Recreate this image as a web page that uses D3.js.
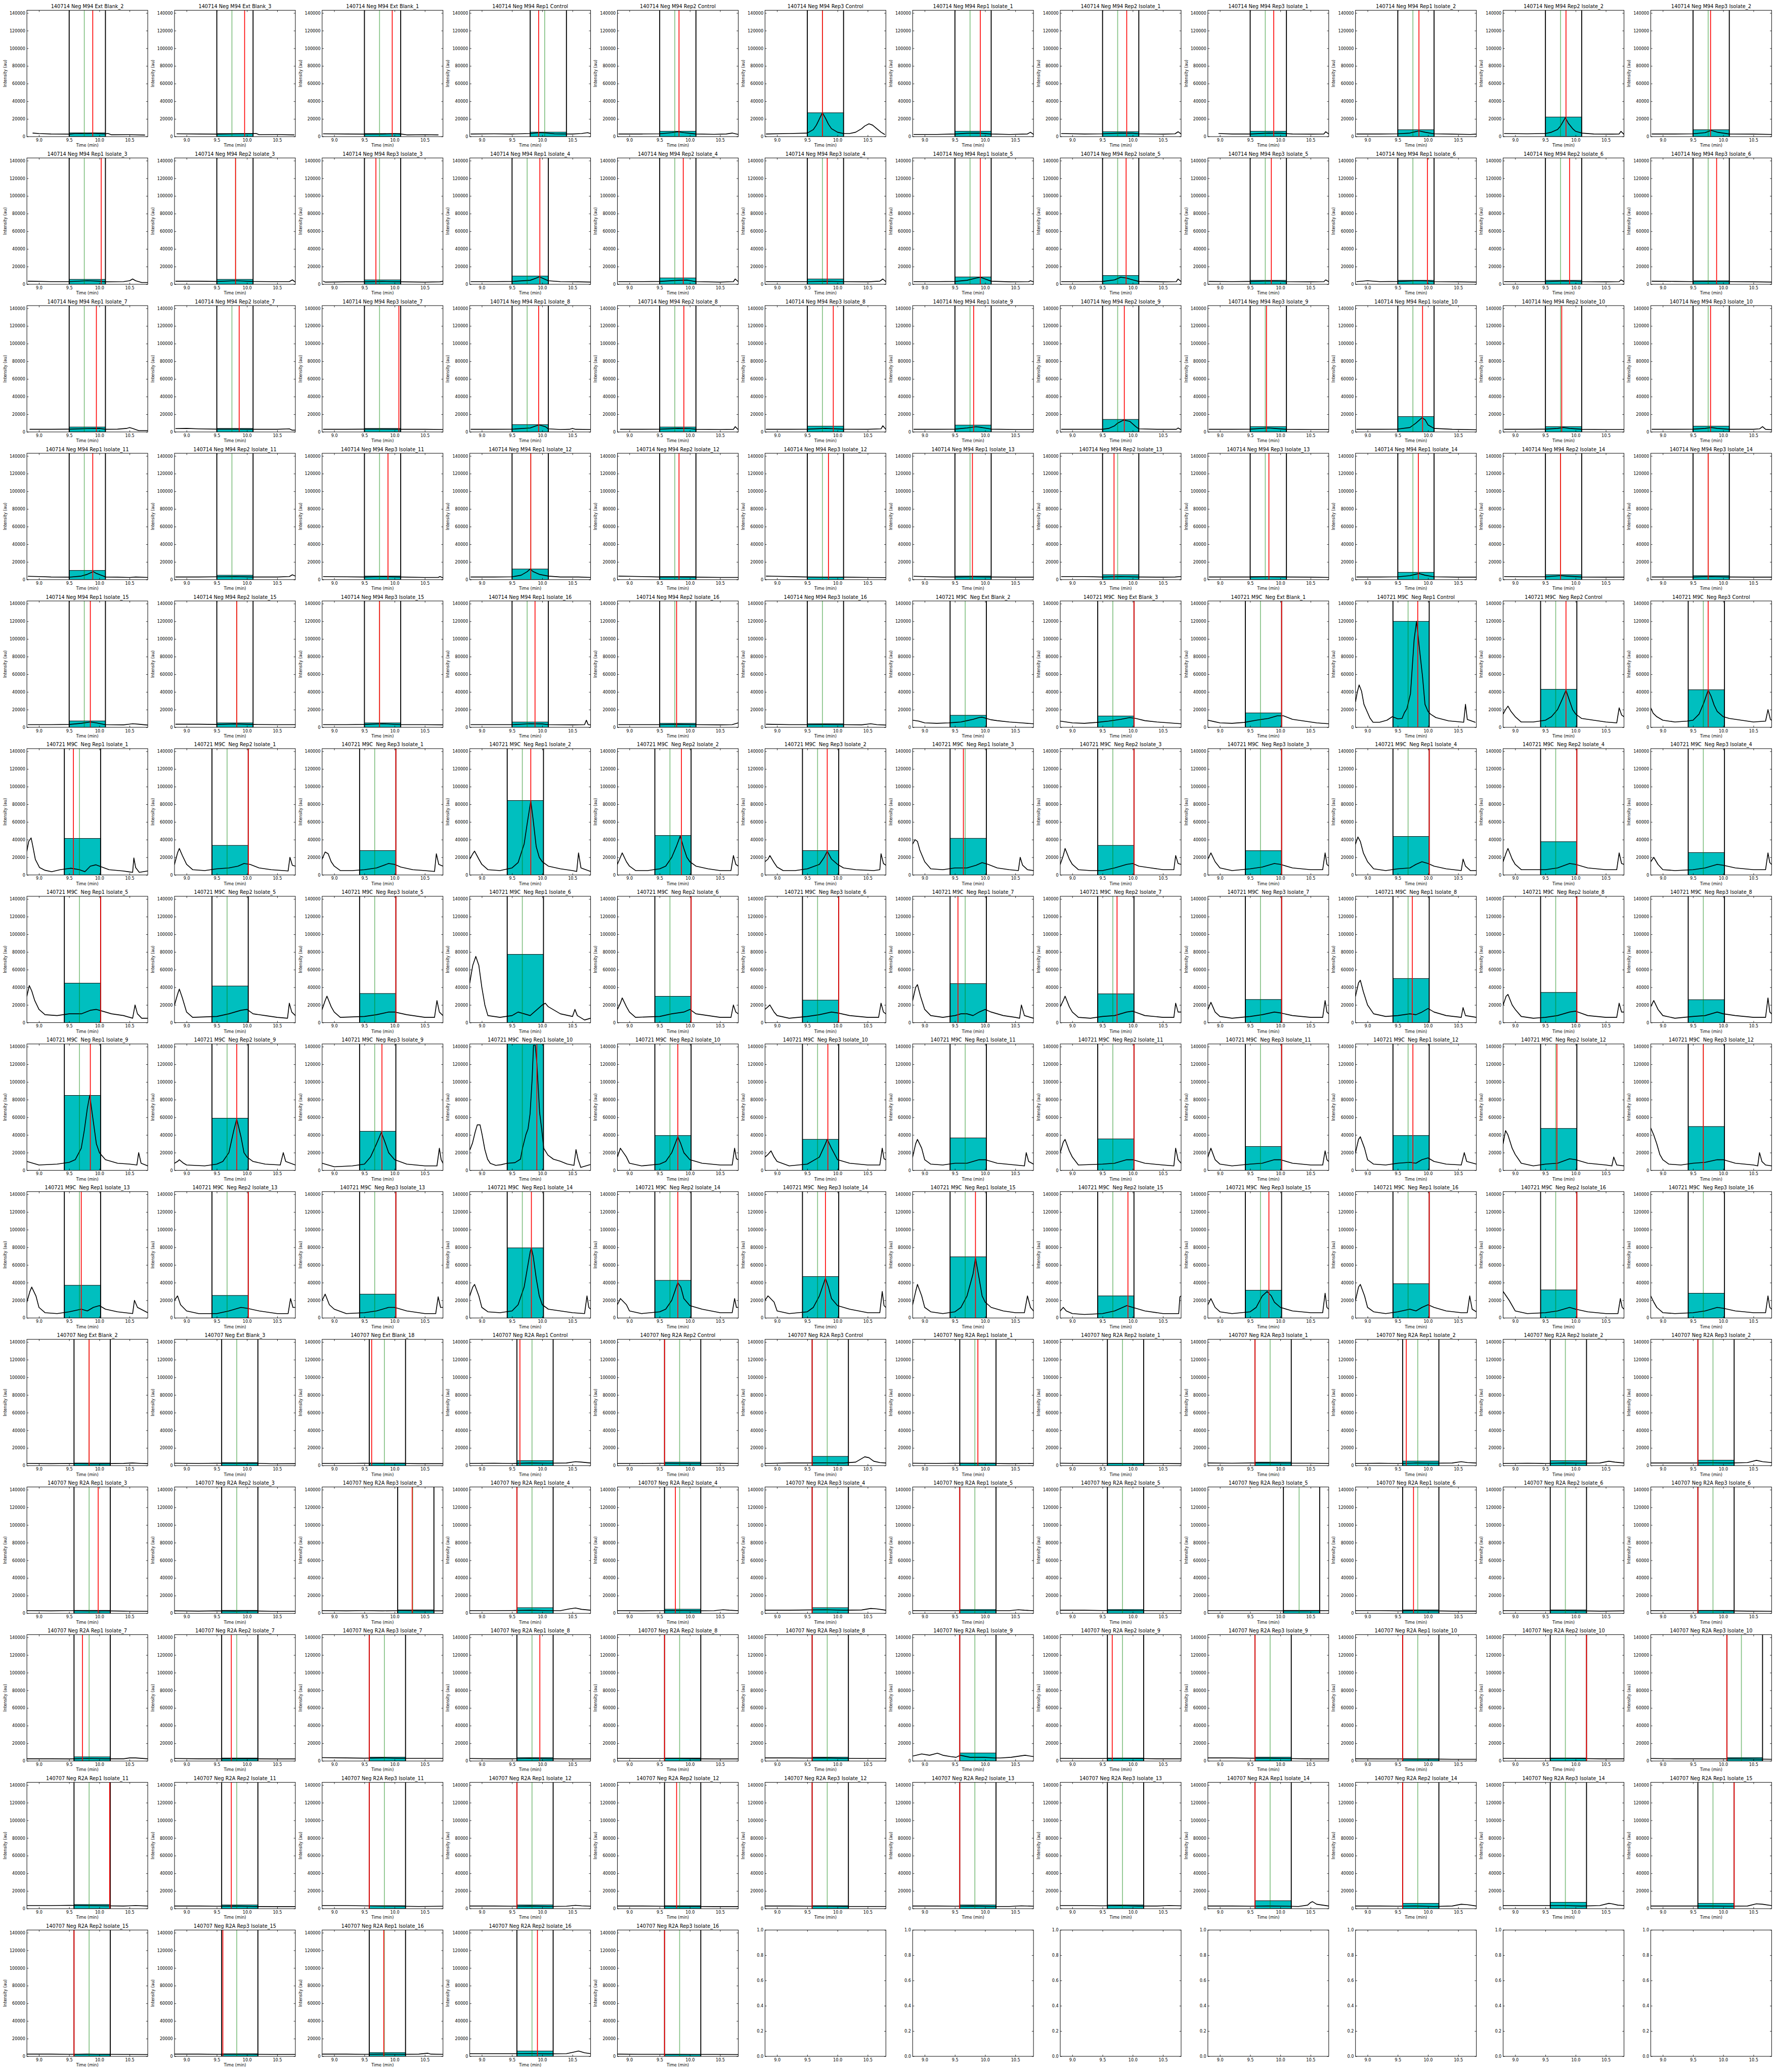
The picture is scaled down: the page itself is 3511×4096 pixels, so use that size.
<!DOCTYPE html>
<html><head><meta charset="utf-8">
<script src="https://cdn.jsdelivr.net/npm/d3@7"></script>
<style>html,body{margin:0;padding:0;background:#fff;}svg text{white-space:pre;}</style>
</head><body>
<script>
// ---------------- DATA ----------------
const titles = [
"140714 Neg M94 Ext Blank_2","140714 Neg M94 Ext Blank_3","140714 Neg M94 Ext Blank_1","140714 Neg M94 Rep1 Control","140714 Neg M94 Rep2 Control","140714 Neg M94 Rep3 Control","140714 Neg M94 Rep1 Isolate_1","140714 Neg M94 Rep2 Isolate_1","140714 Neg M94 Rep3 Isolate_1","140714 Neg M94 Rep1 Isolate_2","140714 Neg M94 Rep2 Isolate_2","140714 Neg M94 Rep3 Isolate_2",
"140714 Neg M94 Rep1 Isolate_3","140714 Neg M94 Rep2 Isolate_3","140714 Neg M94 Rep3 Isolate_3","140714 Neg M94 Rep1 Isolate_4","140714 Neg M94 Rep2 Isolate_4","140714 Neg M94 Rep3 Isolate_4","140714 Neg M94 Rep1 Isolate_5","140714 Neg M94 Rep2 Isolate_5","140714 Neg M94 Rep3 Isolate_5","140714 Neg M94 Rep1 Isolate_6","140714 Neg M94 Rep2 Isolate_6","140714 Neg M94 Rep3 Isolate_6",
"140714 Neg M94 Rep1 Isolate_7","140714 Neg M94 Rep2 Isolate_7","140714 Neg M94 Rep3 Isolate_7","140714 Neg M94 Rep1 Isolate_8","140714 Neg M94 Rep2 Isolate_8","140714 Neg M94 Rep3 Isolate_8","140714 Neg M94 Rep1 Isolate_9","140714 Neg M94 Rep2 Isolate_9","140714 Neg M94 Rep3 Isolate_9","140714 Neg M94 Rep1 Isolate_10","140714 Neg M94 Rep2 Isolate_10","140714 Neg M94 Rep3 Isolate_10",
"140714 Neg M94 Rep1 Isolate_11","140714 Neg M94 Rep2 Isolate_11","140714 Neg M94 Rep3 Isolate_11","140714 Neg M94 Rep1 Isolate_12","140714 Neg M94 Rep2 Isolate_12","140714 Neg M94 Rep3 Isolate_12","140714 Neg M94 Rep1 Isolate_13","140714 Neg M94 Rep2 Isolate_13","140714 Neg M94 Rep3 Isolate_13","140714 Neg M94 Rep1 Isolate_14","140714 Neg M94 Rep2 Isolate_14","140714 Neg M94 Rep3 Isolate_14",
"140714 Neg M94 Rep1 Isolate_15","140714 Neg M94 Rep2 Isolate_15","140714 Neg M94 Rep3 Isolate_15","140714 Neg M94 Rep1 Isolate_16","140714 Neg M94 Rep2 Isolate_16","140714 Neg M94 Rep3 Isolate_16","140721 M9C  Neg Ext Blank_2","140721 M9C  Neg Ext Blank_3","140721 M9C  Neg Ext Blank_1","140721 M9C  Neg Rep1 Control","140721 M9C  Neg Rep2 Control","140721 M9C  Neg Rep3 Control",
"140721 M9C  Neg Rep1 Isolate_1","140721 M9C  Neg Rep2 Isolate_1","140721 M9C  Neg Rep3 Isolate_1","140721 M9C  Neg Rep1 Isolate_2","140721 M9C  Neg Rep2 Isolate_2","140721 M9C  Neg Rep3 Isolate_2","140721 M9C  Neg Rep1 Isolate_3","140721 M9C  Neg Rep2 Isolate_3","140721 M9C  Neg Rep3 Isolate_3","140721 M9C  Neg Rep1 Isolate_4","140721 M9C  Neg Rep2 Isolate_4","140721 M9C  Neg Rep3 Isolate_4",
"140721 M9C  Neg Rep1 Isolate_5","140721 M9C  Neg Rep2 Isolate_5","140721 M9C  Neg Rep3 Isolate_5","140721 M9C  Neg Rep1 Isolate_6","140721 M9C  Neg Rep2 Isolate_6","140721 M9C  Neg Rep3 Isolate_6","140721 M9C  Neg Rep1 Isolate_7","140721 M9C  Neg Rep2 Isolate_7","140721 M9C  Neg Rep3 Isolate_7","140721 M9C  Neg Rep1 Isolate_8","140721 M9C  Neg Rep2 Isolate_8","140721 M9C  Neg Rep3 Isolate_8",
"140721 M9C  Neg Rep1 Isolate_9","140721 M9C  Neg Rep2 Isolate_9","140721 M9C  Neg Rep3 Isolate_9","140721 M9C  Neg Rep1 Isolate_10","140721 M9C  Neg Rep2 Isolate_10","140721 M9C  Neg Rep3 Isolate_10","140721 M9C  Neg Rep1 Isolate_11","140721 M9C  Neg Rep2 Isolate_11","140721 M9C  Neg Rep3 Isolate_11","140721 M9C  Neg Rep1 Isolate_12","140721 M9C  Neg Rep2 Isolate_12","140721 M9C  Neg Rep3 Isolate_12",
"140721 M9C  Neg Rep1 Isolate_13","140721 M9C  Neg Rep2 Isolate_13","140721 M9C  Neg Rep3 Isolate_13","140721 M9C  Neg Rep1 Isolate_14","140721 M9C  Neg Rep2 Isolate_14","140721 M9C  Neg Rep3 Isolate_14","140721 M9C  Neg Rep1 Isolate_15","140721 M9C  Neg Rep2 Isolate_15","140721 M9C  Neg Rep3 Isolate_15","140721 M9C  Neg Rep1 Isolate_16","140721 M9C  Neg Rep2 Isolate_16","140721 M9C  Neg Rep3 Isolate_16",
"140707 Neg Ext Blank_2","140707 Neg Ext Blank_3","140707 Neg Ext Blank_18","140707 Neg R2A Rep1 Control","140707 Neg R2A Rep2 Control","140707 Neg R2A Rep3 Control","140707 Neg R2A Rep1 Isolate_1","140707 Neg R2A Rep2 Isolate_1","140707 Neg R2A Rep3 Isolate_1","140707 Neg R2A Rep1 Isolate_2","140707 Neg R2A Rep2 Isolate_2","140707 Neg R2A Rep3 Isolate_2",
"140707 Neg R2A Rep1 Isolate_3","140707 Neg R2A Rep2 Isolate_3","140707 Neg R2A Rep3 Isolate_3","140707 Neg R2A Rep1 Isolate_4","140707 Neg R2A Rep2 Isolate_4","140707 Neg R2A Rep3 Isolate_4","140707 Neg R2A Rep1 Isolate_5","140707 Neg R2A Rep2 Isolate_5","140707 Neg R2A Rep3 Isolate_5","140707 Neg R2A Rep1 Isolate_6","140707 Neg R2A Rep2 Isolate_6","140707 Neg R2A Rep3 Isolate_6",
"140707 Neg R2A Rep1 Isolate_7","140707 Neg R2A Rep2 Isolate_7","140707 Neg R2A Rep3 Isolate_7","140707 Neg R2A Rep1 Isolate_8","140707 Neg R2A Rep2 Isolate_8","140707 Neg R2A Rep3 Isolate_8","140707 Neg R2A Rep1 Isolate_9","140707 Neg R2A Rep2 Isolate_9","140707 Neg R2A Rep3 Isolate_9","140707 Neg R2A Rep1 Isolate_10","140707 Neg R2A Rep2 Isolate_10","140707 Neg R2A Rep3 Isolate_10",
"140707 Neg R2A Rep1 Isolate_11","140707 Neg R2A Rep2 Isolate_11","140707 Neg R2A Rep3 Isolate_11","140707 Neg R2A Rep1 Isolate_12","140707 Neg R2A Rep2 Isolate_12","140707 Neg R2A Rep3 Isolate_12","140707 Neg R2A Rep2 Isolate_13","140707 Neg R2A Rep3 Isolate_13","140707 Neg R2A Rep1 Isolate_14","140707 Neg R2A Rep2 Isolate_14","140707 Neg R2A Rep3 Isolate_14","140707 Neg R2A Rep1 Isolate_15",
"140707 Neg R2A Rep2 Isolate_15","140707 Neg R2A Rep3 Isolate_15","140707 Neg R2A Rep1 Isolate_16","140707 Neg R2A Rep2 Isolate_16","140707 Neg R2A Rep3 Isolate_16"
];

// integration window start (min)
const boundLeft = [
9.5,9.5,9.5,9.8,9.5,9.5,9.5,9.5,9.5,9.5,9.5,9.5,
9.5,9.5,9.5,9.5,9.5,9.5,9.5,9.5,9.5,9.5,9.5,9.5,
9.5,9.5,9.5,9.5,9.5,9.5,9.5,9.5,9.5,9.5,9.5,9.5,
9.5,9.5,9.5,9.5,9.5,9.5,9.5,9.5,9.5,9.5,9.5,9.5,
9.5,9.5,9.5,9.5,9.5,9.5,9.42,9.42,9.42,9.42,9.42,9.42,
9.42,9.42,9.42,9.42,9.42,9.42,9.42,9.42,9.42,9.42,9.42,9.42,
9.42,9.42,9.42,9.42,9.42,9.42,9.42,9.42,9.42,9.42,9.42,9.42,
9.42,9.42,9.42,9.42,9.42,9.42,9.42,9.42,9.42,9.42,9.42,9.42,
9.42,9.42,9.42,9.42,9.42,9.42,9.42,9.42,9.42,9.42,9.42,9.42,
9.58,9.58,9.58,9.58,9.58,9.58,9.58,9.58,9.58,9.58,9.58,9.58,
9.58,9.58,10.05,9.58,9.58,9.58,9.58,9.58,10.05,9.58,9.58,9.58,
9.58,9.58,9.58,9.58,9.58,9.58,9.58,9.58,9.58,9.58,9.58,10.06,
9.58,9.58,9.58,9.58,9.58,9.58,9.58,9.58,9.58,9.58,9.58,9.58,
9.58,9.58,9.58,9.58,9.58
];
// integration window end (min)
const boundRight = [
10.1,10.1,10.1,10.4,10.1,10.1,10.1,10.1,10.1,10.1,10.1,10.1,
10.1,10.1,10.1,10.1,10.1,10.1,10.1,10.1,10.1,10.1,10.1,10.1,
10.1,10.1,10.1,10.1,10.1,10.1,10.1,10.1,10.1,10.1,10.1,10.1,
10.1,10.1,10.1,10.1,10.1,10.1,10.1,10.1,10.1,10.1,10.1,10.1,
10.1,10.1,10.1,10.1,10.1,10.1,10.02,10.02,10.02,10.02,10.02,10.02,
10.02,10.02,10.02,10.02,10.02,10.02,10.02,10.02,10.02,10.02,10.02,10.02,
10.02,10.02,10.02,10.02,10.02,10.02,10.02,10.02,10.02,10.02,10.02,10.02,
10.02,10.02,10.02,10.02,10.02,10.02,10.02,10.02,10.02,10.02,10.02,10.02,
10.02,10.02,10.02,10.02,10.02,10.02,10.02,10.02,10.02,10.02,10.02,10.02,
10.18,10.18,10.18,10.18,10.18,10.18,10.18,10.18,10.18,10.18,10.18,10.18,
10.18,10.18,10.65,10.18,10.18,10.18,10.18,10.18,10.65,10.18,10.18,10.18,
10.18,10.18,10.18,10.18,10.18,10.18,10.18,10.18,10.18,10.18,10.18,10.65,
10.18,10.18,10.18,10.18,10.18,10.18,10.18,10.18,10.18,10.18,10.18,10.18,
10.18,10.18,10.18,10.18,10.18
];
// green marker (min)
const greenRT = [
9.75,9.75,9.75,10.04,9.75,9.75,9.75,9.75,9.75,9.75,9.75,9.75,
9.75,9.81,9.75,9.75,9.75,9.75,9.75,9.75,9.75,9.75,9.75,9.75,
9.75,9.75,9.75,9.75,9.75,9.75,9.75,9.75,9.75,9.75,9.75,9.75,
9.75,9.75,9.75,9.81,9.75,9.75,9.75,9.75,9.75,9.75,9.75,9.75,
9.75,9.83,9.75,9.75,9.75,9.75,9.67,9.67,9.67,9.67,9.67,9.67,
9.67,9.67,9.67,9.67,9.67,9.67,9.67,9.67,9.67,9.67,9.67,9.67,
9.67,9.67,9.67,9.67,9.67,9.67,9.67,9.67,9.67,9.67,9.67,9.67,
9.67,9.67,9.67,9.67,9.67,9.67,9.67,9.67,9.67,9.67,9.67,9.67,
9.67,9.67,9.67,9.67,9.67,9.67,9.67,9.67,9.67,9.67,9.67,9.67,
9.83,9.83,9.83,9.83,9.83,9.83,9.83,9.83,9.83,9.83,9.83,9.83,
9.83,9.83,10.3,9.83,9.83,9.83,9.83,9.83,10.31,9.83,9.83,9.83,
9.83,9.83,9.83,9.83,9.83,9.83,9.83,9.83,9.83,9.83,9.83,10.3,
9.83,9.83,9.83,9.83,9.83,9.83,9.83,9.83,9.83,9.83,9.83,9.83,
9.83,9.83,9.83,9.83,9.83
];
// red marker (min); null = outside the plotted range
const redRT = [
9.89,9.96,9.96,9.94,9.82,9.75,9.92,9.9,9.89,9.85,9.84,9.79,
10.03,9.81,9.69,9.96,9.89,9.83,9.92,9.89,9.85,9.99,9.9,9.89,
9.95,9.87,10.07,9.94,9.9,9.93,9.81,9.86,9.77,9.91,9.77,9.79,
9.89,null,9.89,9.81,9.82,9.85,9.79,9.69,9.81,9.84,9.75,9.75,
9.85,9.83,9.75,9.88,9.78,null,null,10.02,10.02,9.83,9.84,9.75,
9.57,10.02,10.02,9.81,9.86,9.83,9.64,10.02,10.02,10.02,10.02,null,
10.02,null,10.02,null,10.02,10.02,9.55,9.74,10.02,9.74,10.02,null,
9.85,9.83,9.79,9.91,9.8,9.84,null,10.02,10.02,9.75,9.69,9.67,
9.7,10.02,10.02,9.82,9.8,9.8,9.84,9.92,9.81,10.02,10.02,null,
9.83,null,9.62,9.63,9.58,9.58,9.88,null,9.58,9.64,null,9.58,
9.98,null,10.29,9.58,9.76,9.58,9.58,null,null,9.76,null,9.58,
9.72,9.74,9.58,9.96,9.58,9.58,9.58,9.66,9.58,9.58,10.18,10.06,
10.17,9.74,9.58,9.58,9.78,9.58,9.58,null,9.58,9.58,null,10.18,
9.58,9.6,9.82,9.92,9.58
];
// filled window height (thousand au)
const boxTopK = [
4.2,3.5,3.5,5.1,6.1,27,6.1,5.6,6.1,7.8,22.2,7.8,
5.6,5.6,5,9.3,7.2,6,8.3,9.9,4.5,4.5,4.5,4,
5.6,4,4,8.3,5.6,6.6,7.8,14.2,6.1,17.4,6.1,6.6,
10.4,5,4,12,3.5,3,4,5.6,3.5,8.3,5.6,4.5,
7.2,5,5,6,4.5,4,13.6,12.8,16.3,120,43,42.5,
41.4,33.5,27.6,84.3,44.7,27.6,41.5,33.5,27.5,43.6,37.7,25.4,
44.7,41.5,33,77.3,29.8,25.5,44.2,32.6,26.2,50,34.2,26,
84.8,59,44.2,150,39.4,35.1,36.7,35.6,27,39.4,47.4,49.6,
37,25.5,27,79.4,42.6,46.9,69.3,25,31.4,38.8,31.8,28,
3,3.5,3,5.7,4,10.5,3,2.5,4,5.2,5.7,6.2,
3.4,3.4,3.9,6.4,4.7,6.4,4.3,4.3,3.4,3.9,3.9,3.4,
4.7,3.4,4.3,3.8,3.4,4.3,9.1,3.4,4.3,2.5,3.4,3.8,
4.7,4.2,3.4,4.2,3.4,3.4,4.2,4.2,9,6,7.2,6,
2.5,2.9,4.2,6,2.1
];
// chromatogram traces: [time (min), intensity (thousand au)]
const tracesK = [
// row 0
[[8.9,4],[9.0,3.5],[9.2,3],[9.5,2.8],[9.6,3.5],[9.7,3.6],[9.8,3.3],[9.9,3.8],[10.0,3.4],[10.1,3.1],[10.14,3.6],[10.2,2.1],[10.5,2.2],[10.75,1.8]],
[[8.84,3.2],[9.2,3],[9.5,2.8],[9.8,3.2],[10.1,3.4],[10.15,3.6],[10.2,2.2],[10.5,2.3],[10.78,2]],
[[8.82,3.2],[9.2,3],[9.5,2.8],[9.8,3],[10.0,3.3],[10.1,3],[10.2,2],[10.5,2.2],[10.72,2]],
[[8.82,3],[9.2,3.2],[9.5,3],[9.8,3.5],[9.95,4.5],[10.05,4.2],[10.2,3.2],[10.5,3],[10.65,3.5],[10.75,4.5],[10.8,3.5]],
[[8.82,3],[9.2,3],[9.5,3.2],[9.7,4.5],[9.8,5.5],[9.9,4.5],[10.1,3],[10.4,2.6],[10.6,3],[10.7,4],[10.8,2.5]],
[[8.82,3],[9.2,3.5],[9.5,4],[9.6,8],[9.65,13],[9.7,20],[9.75,27],[9.8,21],[9.85,14],[9.9,9],[10.0,5],[10.1,3.5],[10.2,3.5],[10.3,5],[10.4,9],[10.45,12],[10.52,14.5],[10.58,13],[10.65,9],[10.72,5],[10.78,2.5]],
[[8.82,2.5],[9.2,2.5],[9.5,3],[9.7,3.8],[9.9,4],[10.1,3],[10.4,2.5],[10.7,3],[10.75,5],[10.8,2.5]],
[[8.82,3.5],[9.2,3],[9.5,3.2],[9.8,4],[10.0,3.8],[10.1,3.2],[10.5,2.8],[10.7,3.2],[10.75,5.5],[10.8,3]],
[[8.98,3.5],[9.2,3],[9.5,3],[9.8,4],[10.0,3.8],[10.2,3],[10.5,2.8],[10.72,3],[10.75,5.5],[10.8,3]],
[[8.82,3],[9.2,3],[9.5,3.2],[9.7,4],[9.85,6.5],[9.95,5],[10.1,3.2],[10.4,2.8],[10.7,2.5],[10.8,2.8]],
[[8.82,3.5],[9.2,3.2],[9.5,3.5],[9.6,5],[9.7,8],[9.75,12],[9.8,18],[9.83,21.5],[9.88,15],[9.95,9],[10.0,6],[10.1,4],[10.3,3],[10.6,2.8],[10.72,3],[10.75,6],[10.8,2.5]],
[[8.82,3],[9.2,3],[9.5,3.2],[9.7,4.5],[9.8,7],[9.9,5],[10.1,3],[10.5,2.8],[10.8,2.5]],
// row 1
[[8.82,3.5],[9.2,3],[9.5,3],[9.8,4],[10.0,3.5],[10.1,2.8],[10.4,3],[10.5,4],[10.55,6],[10.6,4],[10.7,2],[10.8,2]],
[[8.82,3.5],[9.2,3.5],[9.5,3.2],[9.8,4],[10.1,3.2],[10.4,3],[10.7,3],[10.75,5],[10.8,2.5]],
[[8.82,3.5],[8.85,2.5],[9.2,2.8],[9.5,2.8],[9.8,3.2],[10.1,2.8],[10.5,2.5],[10.75,2.8],[10.8,3.5]],
[[8.82,3],[9.2,3],[9.5,3.2],[9.8,4.5],[9.9,7],[9.95,8.5],[10.0,7],[10.1,4],[10.3,3],[10.6,2.8],[10.8,2.5]],
[[8.82,3],[9.2,3],[9.5,3.2],[9.8,4.5],[9.95,4.8],[10.1,3],[10.5,2.5],[10.72,3],[10.75,6],[10.8,3]],
[[8.82,3],[9.2,3],[9.5,3],[9.8,3.5],[10.1,3],[10.5,2.8],[10.7,3.5],[10.75,6],[10.8,3]],
[[8.82,3],[9.2,3],[9.5,3.2],[9.7,4.5],[9.85,7],[9.92,8],[10.0,6],[10.1,3.5],[10.4,2.8],[10.72,3],[10.75,4],[10.8,2.8]],
[[8.82,3],[9.2,3],[9.5,3.2],[9.7,5],[9.8,8],[9.9,7],[10.0,5],[10.1,3.2],[10.5,2.8],[10.72,3],[10.75,6],[10.8,3]],
[[8.82,3.2],[9.2,3],[9.5,3.2],[9.8,3.8],[10.0,3.6],[10.1,3],[10.5,2.8],[10.72,3],[10.75,5],[10.8,3]],
[[8.82,3],[9.0,4],[9.2,3],[9.5,3.2],[9.8,4],[10.0,3.8],[10.1,3],[10.5,2.8],[10.8,2.5]],
[[8.82,3],[9.2,3],[9.5,3],[9.8,3.8],[10.0,3.6],[10.1,3],[10.5,2.8],[10.72,3],[10.75,5],[10.8,3]],
[[8.82,3.5],[9.2,3.2],[9.5,3],[9.8,3.3],[10.1,3],[10.5,2.8],[10.8,2.5]],
// row 2
[[8.85,3],[9.2,3],[9.5,3.2],[9.8,3.8],[10.0,4],[10.1,3],[10.3,3.2],[10.45,4],[10.5,5],[10.55,4],[10.65,1.5],[10.8,1.5]],
[[8.82,3.8],[9.0,4],[9.2,3.5],[9.5,3.2],[9.8,3.2],[10.1,3],[10.5,3],[10.7,3.5],[10.75,2],[10.8,2]],
[[8.82,3],[9.2,3],[9.5,3.2],[9.8,3.2],[10.1,3],[10.5,3],[10.8,2.8]],
[[8.82,3],[9.2,3],[9.5,3.2],[9.8,4.5],[9.9,7],[9.95,8],[10.05,6],[10.1,3.5],[10.3,2.8],[10.45,3],[10.5,4],[10.55,3],[10.8,2.8]],
[[8.85,3],[9.2,3],[9.5,3.2],[9.8,4],[10.0,3.8],[10.1,3],[10.5,2.8],[10.72,3],[10.75,6],[10.8,2.5]],
[[8.82,3],[9.2,3],[9.5,3.2],[9.8,4],[10.1,3.2],[10.5,3],[10.72,3.5],[10.75,7],[10.8,3]],
[[8.82,3],[9.2,3],[9.5,3.2],[9.7,4.5],[9.85,6],[9.95,5],[10.1,3.2],[10.5,2.8],[10.8,2.8]],
[[8.82,3],[9.2,3],[9.5,3],[9.6,4],[9.7,7],[9.75,10],[9.85,13.5],[9.95,12],[10.05,6],[10.1,3.5],[10.4,3],[10.72,3],[10.75,4.5],[10.8,2.5]],
[[8.82,3],[9.2,3],[9.5,3.2],[9.8,4.5],[9.9,4],[10.1,3],[10.5,2.8],[10.8,2.8]],
[[8.82,3],[9.2,3],[9.5,3.2],[9.7,5],[9.8,10],[9.9,16],[9.95,14],[10.0,8],[10.1,4],[10.4,3],[10.8,2.5]],
[[8.82,3],[9.2,3],[9.5,3.2],[9.7,4],[9.8,5],[9.9,4],[10.1,3],[10.5,2.8],[10.8,2.8]],
[[8.82,3],[9.2,3],[9.5,3.2],[9.7,4],[9.8,5],[9.9,4],[10.1,3],[10.5,3],[10.6,3.5],[10.65,6],[10.7,3],[10.8,2.5]],
// row 3
[[8.82,3.8],[9.0,3.5],[9.2,3],[9.5,2.8],[9.7,4],[9.8,6],[9.9,9],[9.95,7],[10.05,4.5],[10.1,3],[10.3,2.8],[10.5,2.5],[10.6,3],[10.8,2.5]],
[[8.82,3],[9.2,3],[9.5,3.2],[9.8,3.5],[10.1,3],[10.5,3],[10.7,3.5],[10.75,5.5],[10.8,4]],
[[8.82,3.5],[9.2,3.2],[9.5,3],[9.8,3.5],[10.1,3],[10.5,2.5],[10.72,2.5],[10.75,3.5],[10.8,2]],
[[8.82,3],[9.2,3],[9.5,3.2],[9.65,5],[9.75,9],[9.8,12],[9.85,9],[9.95,6],[10.1,4],[10.3,3],[10.6,3],[10.8,2.5]],
[[8.82,4],[9.0,3.8],[9.2,3.5],[9.5,3],[9.8,3],[10.1,2.8],[10.5,2.5],[10.8,2.5]],
[[8.82,4],[9.0,3.8],[9.3,3.3],[9.5,3],[9.8,2.8],[10.1,2.8],[10.5,2.5],[10.8,2.3]],
[[8.82,3.8],[9.0,3.5],[9.3,3],[9.5,3],[9.8,3.2],[10.1,3],[10.5,2.8],[10.8,2.8]],
[[8.82,3.5],[9.2,3.5],[9.5,3],[9.8,3.5],[10.1,3],[10.5,2.8],[10.7,3],[10.8,3.5]],
[[8.82,3],[9.2,3],[9.5,3],[9.8,3.2],[10.1,3],[10.5,2.8],[10.8,2.5]],
[[8.82,3],[9.2,3],[9.5,3.2],[9.7,4.5],[9.85,7],[9.95,5],[10.1,3.2],[10.5,2.8],[10.8,2.8]],
[[8.82,3.5],[9.2,3.2],[9.5,3.2],[9.75,4.5],[9.85,4],[10.1,3],[10.5,2.8],[10.8,2.8]],
[[8.82,3],[9.2,3],[9.5,3],[9.8,3.5],[10.1,3],[10.5,2.8],[10.8,2.8]],
// row 4
[[8.82,3],[9.2,3],[9.5,3.2],[9.7,4.5],[9.85,6],[9.95,5],[10.1,3],[10.4,2.8],[10.55,4],[10.65,3.5],[10.8,2.5]],
[[8.82,3.5],[9.2,3.5],[9.5,3.2],[9.8,3.8],[10.1,3.2],[10.5,3],[10.8,3]],
[[8.82,3],[9.2,3],[9.5,3.2],[9.8,4],[10.1,3],[10.5,3],[10.8,2.8]],
[[8.82,3],[9.2,3],[9.5,3],[9.8,4],[10.0,3.8],[10.1,3],[10.5,2.8],[10.7,3],[10.73,8],[10.76,3],[10.8,2.8]],
[[8.82,3],[9.2,3],[9.5,3],[9.8,3.5],[10.1,3],[10.5,2.8],[10.7,3],[10.8,5]],
[[8.82,3.5],[9.2,3],[9.5,3],[9.8,3.2],[10.1,3],[10.4,2.8],[10.55,4],[10.65,3],[10.8,2.5]],
[[8.8,8],[8.9,7],[9.0,5],[9.2,4.5],[9.4,5],[9.5,5.5],[9.6,6],[9.7,7.5],[9.8,9],[9.9,11],[9.95,11.5],[10.0,10.5],[10.1,8.5],[10.2,7.5],[10.4,6],[10.6,5],[10.8,4]],
[[8.8,7],[8.9,6],[9.0,5],[9.2,4.5],[9.4,5.5],[9.6,7],[9.8,9],[9.95,11],[10.05,10],[10.2,7.5],[10.4,6],[10.6,5],[10.8,4]],
[[8.8,8],[8.9,6.5],[9.0,5],[9.2,4.5],[9.4,5.5],[9.6,8],[9.8,10],[9.95,13],[10.05,13],[10.2,9],[10.4,7],[10.6,5],[10.8,4]],
[[8.8,29],[8.83,40],[8.86,48],[8.9,41],[8.94,26],[9.0,16.6],[9.04,10.4],[9.09,5.7],[9.2,5.7],[9.32,8],[9.41,12],[9.5,9.6],[9.57,10],[9.61,16.6],[9.65,21],[9.71,38],[9.77,99],[9.81,120],[9.86,88],[9.91,57],[9.95,26],[10.0,18],[10.04,15],[10.13,11],[10.34,7.3],[10.59,5.7],[10.62,26],[10.65,8.9],[10.78,5.7]],
[[8.8,15],[8.84,20],[8.88,24],[8.93,18],[9.0,12],[9.1,6],[9.3,6],[9.5,8],[9.6,12],[9.7,20],[9.78,32],[9.84,42],[9.9,30],[9.95,20],[10.0,15],[10.1,10],[10.3,8],[10.5,6],[10.68,5],[10.72,22],[10.76,14],[10.8,12]],
[[8.8,22],[8.84,16],[8.9,12],[9.0,8],[9.2,6],[9.4,7],[9.5,8],[9.6,15],[9.68,28],[9.75,42],[9.8,35],[9.85,25],[9.9,18],[10.0,12],[10.1,10],[10.3,8],[10.5,6],[10.7,7],[10.74,20],[10.78,9],[10.8,8]],
// row 5
[[8.8,27],[8.83,38],[8.87,42],[8.9,32],[8.94,17.7],[9.01,8.4],[9.1,5.3],[9.21,3.7],[9.35,6],[9.44,6.8],[9.53,7.6],[9.67,6],[9.76,3.7],[9.85,10],[9.94,11.5],[10.03,9.2],[10.16,6],[10.39,4.5],[10.55,3],[10.57,19.3],[10.6,8.4],[10.66,3],[10.8,4.5]],
[[8.8,12],[8.85,25],[8.88,30],[8.93,22],[9.0,12],[9.1,6],[9.3,5],[9.5,7],[9.7,8],[9.85,10],[9.95,13],[10.05,12],[10.2,8],[10.4,6],[10.6,5],[10.68,4.5],[10.71,20],[10.75,11],[10.8,10]],
[[8.8,18],[8.85,26],[8.9,24],[8.95,15],[9.0,10],[9.1,5],[9.3,5],[9.5,6],[9.7,8],[9.9,13],[10.0,12],[10.1,9],[10.3,6],[10.5,5],[10.66,4],[10.69,24],[10.73,12],[10.8,10]],
[[8.8,18],[8.85,24],[8.88,27],[8.95,18],[9.0,12],[9.1,6],[9.3,5],[9.5,8],[9.6,14],[9.7,35],[9.75,58],[9.81,84],[9.85,62],[9.9,32],[9.95,20],[10.0,15],[10.1,10],[10.3,7],[10.5,5],[10.57,4],[10.6,25],[10.64,8],[10.8,4]],
[[8.8,12],[8.85,20],[8.88,25],[8.95,15],[9.0,10],[9.1,5],[9.3,5],[9.5,7],[9.6,10],[9.7,20],[9.78,33],[9.84,44],[9.9,30],[9.95,20],[10.0,15],[10.1,10],[10.3,7],[10.5,5],[10.68,5],[10.72,22],[10.76,12],[10.8,10]],
[[8.8,15],[8.85,18],[8.88,22],[8.95,14],[9.0,9],[9.1,5],[9.3,5],[9.5,7],[9.7,12],[9.78,20],[9.83,27],[9.9,18],[10.0,12],[10.1,8],[10.3,6],[10.6,5],[10.7,6],[10.72,24],[10.76,13],[10.8,11]],
[[8.8,35],[8.84,40],[8.88,38],[8.92,28],[9.0,15],[9.1,7],[9.3,6],[9.5,8],[9.7,8],[9.85,11],[9.95,14],[10.05,12],[10.2,8],[10.4,6],[10.55,5],[10.58,20],[10.62,11],[10.7,6],[10.8,5]],
[[8.8,12],[8.85,22],[8.88,30],[8.95,18],[9.0,12],[9.1,6],[9.3,5],[9.5,5],[9.7,8],[9.9,12],[10.0,13],[10.1,10],[10.3,8],[10.5,6],[10.68,6],[10.71,22],[10.75,13],[10.8,12]],
[[8.8,18],[8.85,25],[8.92,15],[9.0,8],[9.2,5],[9.5,7],[9.7,9],[9.9,13],[10.0,12],[10.2,8],[10.5,6],[10.7,6],[10.74,25],[10.77,12],[10.8,10]],
[[8.8,35],[8.84,43],[8.88,38],[8.93,25],[9.0,15],[9.1,7],[9.3,5],[9.5,7],[9.7,8],[9.8,12],[9.9,15],[10.0,13],[10.1,10],[10.3,7],[10.55,5],[10.58,18],[10.62,10],[10.7,5],[10.8,5]],
[[8.8,15],[8.85,25],[8.88,30],[8.95,18],[9.0,12],[9.1,6],[9.5,6],[9.7,8],[9.9,13],[10.0,12],[10.2,8],[10.5,6],[10.68,6],[10.72,25],[10.76,13],[10.8,12]],
[[8.8,15],[8.85,20],[8.92,12],[9.0,6],[9.2,5],[9.5,6],[9.7,8],[9.9,12],[10.0,11],[10.2,8],[10.5,6],[10.7,6],[10.74,25],[10.77,14],[10.8,12]],
// row 6
[[8.8,30],[8.84,42],[8.88,36],[8.93,25],[9.0,15],[9.1,9],[9.3,8],[9.5,10],[9.7,10],[9.85,14],[9.95,15],[10.05,13],[10.2,10],[10.4,8],[10.55,5],[10.59,20],[10.63,10],[10.7,5],[10.8,5]],
[[8.8,20],[8.85,32],[8.88,38],[8.93,28],[9.0,12],[9.1,6],[9.5,7],[9.7,10],[9.9,14],[10.0,15],[10.1,10],[10.3,8],[10.5,6],[10.67,5],[10.7,22],[10.74,12],[10.8,8]],
[[8.8,15],[8.85,25],[8.88,30],[8.95,18],[9.0,12],[9.1,6],[9.5,7],[9.7,9],[9.9,12],[10.0,12],[10.2,9],[10.5,6],[10.66,6],[10.7,25],[10.74,12],[10.8,8]],
[[8.8,45],[8.85,65],[8.9,75],[8.95,65],[9.0,40],[9.05,20],[9.1,8],[9.3,6],[9.5,8],[9.6,12],[9.7,10],[9.8,8],[9.9,14],[10.0,20],[10.05,22],[10.1,18],[10.3,10],[10.5,7],[10.54,15],[10.58,8],[10.7,3],[10.8,5]],
[[8.8,15],[8.85,22],[8.88,28],[8.95,18],[9.0,12],[9.1,6],[9.5,7],[9.7,10],[9.9,12],[10.0,15],[10.1,10],[10.3,8],[10.5,6],[10.68,6],[10.72,20],[10.76,12],[10.8,10]],
[[8.8,15],[8.85,18],[8.88,20],[8.95,12],[9.0,8],[9.2,5],[9.5,7],[9.7,9],[9.9,12],[10.0,11],[10.2,8],[10.5,6],[10.68,6],[10.72,22],[10.76,12],[10.8,10]],
[[8.8,25],[8.85,40],[8.88,43],[8.93,30],[9.0,15],[9.1,8],[9.3,6],[9.5,8],[9.6,10],[9.7,10],[9.8,8],[9.9,12],[10.0,15],[10.1,12],[10.3,8],[10.5,6],[10.57,5],[10.6,20],[10.65,8],[10.8,5]],
[[8.8,18],[8.85,25],[8.88,30],[8.95,18],[9.0,12],[9.1,6],[9.3,5],[9.5,7],[9.7,8],[9.9,12],[10.0,13],[10.2,8],[10.5,6],[10.68,6],[10.71,22],[10.75,12],[10.8,12]],
[[8.8,15],[8.85,23],[8.92,12],[9.0,7],[9.2,5],[9.5,7],[9.7,9],[9.9,12],[10.0,11],[10.2,8],[10.5,6],[10.7,6],[10.74,25],[10.77,12],[10.8,10]],
[[8.8,30],[8.85,45],[8.88,48],[8.93,35],[9.0,20],[9.1,10],[9.3,7],[9.5,8],[9.7,10],[9.8,9],[9.9,12],[10.0,16],[10.1,12],[10.3,8],[10.55,6],[10.58,17],[10.62,8],[10.8,6]],
[[8.8,20],[8.85,30],[8.88,32],[8.95,20],[9.0,15],[9.1,7],[9.3,5],[9.5,6],[9.7,8],[9.9,12],[10.0,13],[10.2,8],[10.5,6],[10.68,6],[10.72,22],[10.76,12],[10.8,12]],
[[8.8,18],[8.85,25],[8.92,15],[9.0,8],[9.2,5],[9.5,7],[9.7,8],[9.9,12],[10.0,10],[10.2,8],[10.5,6],[10.7,6],[10.74,28],[10.77,12],[10.8,10]],
// row 7
[[8.8,10],[8.85,9],[8.9,8],[9.0,6],[9.3,7],[9.5,9],[9.6,12],[9.7,25],[9.75,45],[9.8,70],[9.84,85],[9.9,55],[9.95,30],[10.0,20],[10.1,12],[10.3,8],[10.5,7],[10.62,6],[10.65,20],[10.69,8],[10.8,5]],
[[8.8,8],[8.85,10],[8.88,12],[8.95,8],[9.0,6],[9.3,5],[9.5,7],[9.6,10],[9.7,20],[9.78,45],[9.83,58],[9.9,38],[9.95,20],[10.0,15],[10.1,10],[10.3,7],[10.55,6],[10.6,20],[10.64,10],[10.8,6]],
[[8.8,8],[8.9,6],[9.0,4],[9.3,5],[9.5,7],[9.6,15],[9.7,30],[9.78,43],[9.85,30],[9.9,20],[10.0,12],[10.2,7],[10.5,5],[10.7,5],[10.74,25],[10.77,12],[10.8,8]],
[[8.805,23.5],[8.846,31],[8.891,43.7],[8.925,51.5],[8.97,51.5],[9.004,40.6],[9.05,23.5],[9.095,12.6],[9.14,7.9],[9.231,5.6],[9.322,6.4],[9.412,7.9],[9.548,8.7],[9.639,12.6],[9.673,25],[9.73,40.6],[9.764,46.8],[9.798,63.9],[9.832,102.8],[9.855,141.7],[9.884,141.7],[9.911,121.4],[9.956,65.5],[9.99,46.8],[10.024,25],[10.093,17.3],[10.184,12.6],[10.297,10.3],[10.41,7.2],[10.524,5.6],[10.558,23.5],[10.592,12.6],[10.637,3.3],[10.793,6.4]],
[[8.8,15],[8.85,25],[8.9,20],[8.95,15],[9.0,8],[9.2,5],[9.5,7],[9.6,10],[9.7,20],[9.8,38],[9.85,30],[9.9,20],[10.0,12],[10.2,8],[10.5,6],[10.7,6],[10.74,25],[10.77,13],[10.8,12]],
[[8.8,15],[8.85,18],[8.9,22],[8.95,15],[9.0,10],[9.2,5],[9.5,7],[9.7,15],[9.8,30],[9.83,35],[9.9,25],[10.0,12],[10.2,8],[10.5,6],[10.7,6],[10.74,25],[10.77,13],[10.8,12]],
[[8.8,15],[8.85,30],[8.88,35],[8.95,25],[9.0,12],[9.1,7],[9.3,6],[9.5,8],[9.7,8],[9.9,12],[10.0,12],[10.2,8],[10.5,6],[10.65,5],[10.68,20],[10.72,10],[10.8,7]],
[[8.8,20],[8.85,32],[8.88,35],[8.95,22],[9.0,15],[9.1,6],[9.5,7],[9.7,8],[9.9,12],[10.0,12],[10.2,8],[10.5,6],[10.68,5],[10.71,25],[10.75,12],[10.8,8]],
[[8.8,15],[8.85,25],[8.92,12],[9.0,7],[9.2,5],[9.5,7],[9.7,8],[9.9,12],[10.0,12],[10.2,8],[10.5,6],[10.7,6],[10.74,22],[10.77,12],[10.8,10]],
[[8.8,20],[8.85,35],[8.88,38],[8.95,25],[9.0,12],[9.1,7],[9.3,6],[9.5,8],[9.7,9],[9.8,8],[9.9,12],[10.0,14],[10.1,10],[10.3,7],[10.55,6],[10.6,20],[10.64,10],[10.8,7]],
[[8.8,30],[8.84,45],[8.88,40],[8.95,25],[9.0,18],[9.1,8],[9.3,5],[9.5,7],[9.7,8],[9.9,13],[10.0,12],[10.2,8],[10.5,6],[10.6,5],[10.63,15],[10.68,6],[10.8,5]],
[[8.8,48],[8.85,40],[8.9,30],[8.95,18],[9.0,12],[9.1,7],[9.3,6],[9.5,8],[9.7,9],[9.9,12],[10.0,12],[10.2,8],[10.5,6],[10.57,5],[10.6,20],[10.64,10],[10.7,6],[10.8,5]],
// row 8
[[8.8,18],[8.85,30],[8.88,35],[8.95,25],[9.0,12],[9.1,6],[9.3,5],[9.5,7],[9.7,10],[9.8,8],[9.9,12],[10.0,14],[10.1,10],[10.3,7],[10.55,5],[10.58,20],[10.63,12],[10.8,6]],
[[8.8,20],[8.85,25],[8.9,15],[9.0,8],[9.2,5],[9.5,5],[9.7,8],[9.9,12],[10.0,11],[10.2,8],[10.5,5],[10.68,5],[10.72,22],[10.76,12],[10.8,12]],
[[8.8,20],[8.85,27],[8.92,15],[9.0,10],[9.2,5],[9.5,6],[9.7,8],[9.9,12],[10.0,12],[10.2,8],[10.5,5],[10.68,5],[10.72,24],[10.76,12],[10.8,12]],
[[8.8,25],[8.85,35],[8.88,38],[8.95,25],[9.0,12],[9.1,7],[9.3,6],[9.5,8],[9.6,15],[9.7,35],[9.75,55],[9.8,75],[9.82,79],[9.85,70],[9.9,45],[9.95,25],[10.0,15],[10.1,10],[10.3,8],[10.5,6],[10.7,5],[10.74,25],[10.77,12],[10.8,10]],
[[8.8,15],[8.85,22],[8.95,15],[9.0,8],[9.2,5],[9.5,7],[9.6,10],[9.7,20],[9.8,40],[9.85,35],[9.9,22],[10.0,14],[10.2,10],[10.5,6],[10.7,6],[10.74,22],[10.77,12],[10.8,12]],
[[8.8,20],[8.85,25],[8.95,18],[9.0,8],[9.2,5],[9.5,7],[9.6,12],[9.7,25],[9.8,45],[9.85,35],[9.9,22],[10.0,14],[10.2,10],[10.5,6],[10.7,6],[10.74,30],[10.77,14],[10.8,12]],
[[8.8,15],[8.85,30],[8.88,38],[8.95,25],[9.0,12],[9.1,7],[9.3,5],[9.5,7],[9.6,12],[9.7,25],[9.8,50],[9.84,68],[9.9,45],[9.95,25],[10.0,18],[10.1,12],[10.3,8],[10.5,6],[10.65,6],[10.7,25],[10.75,12],[10.8,8]],
[[8.8,8],[8.85,12],[8.9,8],[9.0,5],[9.2,4],[9.5,5],[9.7,8],[9.9,14],[10.0,12],[10.2,8],[10.5,5],[10.76,5],[10.78,24],[10.8,25]],
[[8.8,15],[8.85,22],[8.92,12],[9.0,7],[9.2,5],[9.5,7],[9.6,12],[9.7,25],[9.78,30],[9.85,25],[9.9,18],[10.0,12],[10.2,8],[10.5,6],[10.7,6],[10.74,28],[10.77,12],[10.8,10]],
[[8.8,20],[8.85,35],[8.88,38],[8.95,25],[9.0,12],[9.1,7],[9.3,5],[9.5,7],[9.7,10],[9.8,8],[9.9,12],[10.0,15],[10.1,12],[10.3,8],[10.55,6],[10.65,6],[10.69,25],[10.73,10],[10.8,7]],
[[8.8,30],[8.85,25],[8.9,20],[9.0,8],[9.2,5],[9.5,6],[9.7,8],[9.9,12],[10.0,10],[10.2,7],[10.5,5],[10.7,5],[10.74,22],[10.77,12],[10.8,10]],
[[8.8,25],[8.85,18],[8.9,12],[9.0,6],[9.2,5],[9.5,6],[9.7,8],[9.9,12],[10.0,11],[10.2,8],[10.5,6],[10.7,6],[10.74,25],[10.77,12],[10.8,10]],
// row 9
[[8.8,2.5],[9.2,2.3],[9.5,2.5],[9.8,2.2],[10.1,2.3],[10.4,2.6],[10.55,3],[10.7,2.5],[10.8,2.3]],
[[8.8,2.8],[9.2,2.5],[9.5,2.8],[9.8,2.5],[10.1,2.8],[10.4,2.2],[10.8,2.3]],
[[8.8,2.5],[9.2,2.5],[9.5,2.8],[9.8,2.5],[10.1,2.5],[10.4,2.3],[10.8,2.3]],
[[8.8,2.5],[9.2,2.8],[9.5,2.5],[9.8,3],[10.1,2.8],[10.4,3],[10.55,4.5],[10.65,4],[10.8,3]],
[[8.8,2.5],[9.2,2.5],[9.5,2.8],[9.8,2.5],[10.1,2.5],[10.5,2.8],[10.8,2.5]],
[[8.8,2.5],[9.2,3],[9.5,3],[9.8,3.2],[10.1,3],[10.3,4],[10.4,8],[10.45,10],[10.52,9],[10.6,5],[10.7,3.5],[10.8,3]],
[[8.8,2.8],[9.2,2.5],[9.5,2.8],[9.8,2.5],[10.1,2.5],[10.4,2.3],[10.8,2.5]],
[[8.8,2.8],[9.2,2.5],[9.5,2.5],[9.8,2.5],[10.1,2.3],[10.4,2.5],[10.8,2.3]],
[[8.8,3],[9.2,2.8],[9.5,3],[9.8,3],[10.1,2.8],[10.5,2.8],[10.8,2.5]],
[[8.8,2.5],[9.2,2.8],[9.5,2.5],[9.8,3],[10.1,2.8],[10.4,3],[10.55,4.5],[10.65,3.5],[10.8,3]],
[[8.8,2.5],[9.2,2.8],[9.5,2.5],[9.8,3],[10.1,2.8],[10.4,3],[10.55,5],[10.65,4],[10.8,3]],
[[8.8,3],[9.2,3],[9.5,3],[9.8,3.2],[10.1,3],[10.4,3.5],[10.55,6],[10.65,4.5],[10.8,3.5]],
// row 10
[[8.8,3],[9.2,2.8],[9.5,3],[9.8,2.8],[10.1,2.8],[10.4,2.5],[10.8,2.3]],
[[8.8,2.8],[9.2,2.5],[9.5,2.8],[9.8,2.5],[10.1,2.8],[10.4,2.3],[10.8,2.3]],
[[8.8,3],[9.2,2.8],[9.5,3],[9.8,2.8],[10.1,3],[10.4,2.8],[10.8,2.8]],
[[8.8,3],[9.2,3],[9.5,3.2],[9.8,3.5],[10.1,3],[10.3,3],[10.45,5],[10.55,6],[10.65,4.5],[10.8,3.5]],
[[8.8,3],[9.2,2.8],[9.5,3],[9.8,3.2],[10.1,2.8],[10.4,3],[10.55,4],[10.65,3.5],[10.8,3]],
[[8.8,3.5],[9.2,3.5],[9.5,3.8],[9.8,4],[10.1,3.5],[10.4,3.8],[10.55,5.5],[10.65,5],[10.8,3.5]],
[[8.8,3],[9.2,3],[9.5,3],[9.8,3.2],[10.1,3],[10.4,3],[10.55,4],[10.65,3.5],[10.8,3]],
[[8.8,3.5],[9.2,3.5],[9.5,3.2],[9.8,3.2],[10.1,3],[10.5,3],[10.8,3]],
[[8.8,3],[9.2,3],[9.5,3],[9.8,3],[10.1,2.8],[10.4,2.8],[10.8,3]],
[[8.8,3],[9.2,3],[9.5,2.8],[9.8,3],[10.1,2.8],[10.4,2.5],[10.8,2.5]],
[[8.8,3],[9.2,3],[9.5,3],[9.8,3],[10.1,2.8],[10.4,2.5],[10.8,2.8]],
[[8.8,3],[9.2,3],[9.5,3],[9.8,3],[10.1,2.8],[10.4,2.5],[10.8,2.3]],
// row 11
[[8.8,2.5],[9.2,2.5],[9.5,2.3],[9.8,2.8],[10.1,2.5],[10.4,2.5],[10.5,3.5],[10.6,3.5],[10.8,2.5]],
[[8.8,2.8],[9.2,2.5],[9.5,2.5],[9.8,2.5],[10.1,2.5],[10.4,2.3],[10.8,2.3]],
[[8.8,3.8],[9.2,3.5],[9.5,3.2],[9.8,3.5],[10.1,3],[10.4,3],[10.8,3]],
[[8.8,2.8],[9.2,2.5],[9.5,2.5],[9.8,3],[10.1,2.5],[10.4,2.3],[10.8,2.3]],
[[8.8,3],[9.2,2.8],[9.5,2.8],[9.8,2.8],[10.1,2.5],[10.4,2.3],[10.8,2.3]],
[[8.8,3.5],[9.2,3.5],[9.5,3.3],[9.8,3.5],[10.1,3],[10.4,2.8],[10.8,2.8]],
[[8.81,5.7],[8.95,8],[9.08,6.5],[9.21,8.8],[9.3,6.5],[9.43,5],[9.52,4.2],[9.59,6.5],[9.75,4.2],[9.98,4.2],[10.16,3.4],[10.25,3.4],[10.43,4.2],[10.66,6.5],[10.8,5]],
[[8.8,3],[9.2,2.8],[9.5,2.8],[9.8,3],[10.1,2.8],[10.4,2.5],[10.8,2.5]],
[[8.8,3.5],[9.2,3.5],[9.5,3.2],[9.8,3.2],[10.1,2.8],[10.4,2.5],[10.8,2.3]],
[[8.8,2.5],[9.2,2.3],[9.5,2.3],[9.8,2.2],[10.1,2.2],[10.4,2],[10.8,2]],
[[8.8,3],[9.2,2.8],[9.5,2.8],[9.8,3],[10.1,2.8],[10.4,2.5],[10.8,2.5]],
[[8.8,2.8],[9.2,2.5],[9.5,2.5],[9.8,2.5],[10.1,2.5],[10.4,2.3],[10.8,2]],
// row 12
[[8.8,3.5],[9.2,3.5],[9.5,3.8],[9.8,3.5],[10.1,3.2],[10.4,3],[10.6,3.5],[10.8,3]],
[[8.8,3],[9.2,3],[9.5,2.8],[9.8,3],[10.1,2.5],[10.4,2.3],[10.8,2.3]],
[[8.8,3.5],[9.2,3.5],[9.5,3.2],[9.8,3],[10.1,2.8],[10.4,2.5],[10.8,2.8]],
[[8.8,3],[9.2,3],[9.5,2.8],[9.8,3],[10.1,2.5],[10.4,2.8],[10.55,3.8],[10.65,3.2],[10.8,2.8]],
[[8.8,3],[9.2,3],[9.5,2.8],[9.8,2.5],[10.1,2.5],[10.4,2.3],[10.8,2.3]],
[[8.8,3],[9.2,3],[9.5,2.8],[9.8,2.8],[10.1,2.5],[10.4,2.5],[10.8,2.5]],
[[8.8,3],[9.2,3],[9.5,2.8],[9.8,3],[10.1,2.5],[10.4,2.5],[10.6,3.2],[10.8,2.8]],
[[8.8,3.5],[9.2,3.5],[9.5,3.2],[9.8,3.5],[10.1,3],[10.4,3],[10.6,3.5],[10.8,3.2]],
[[8.8,3],[9.2,3],[9.5,2.8],[9.8,3],[10.1,2.8],[10.3,2.5],[10.45,4],[10.5,7],[10.53,8],[10.6,5],[10.7,4],[10.8,3]],
[[8.8,3],[9.2,3],[9.5,2.8],[9.8,3],[10.1,2.5],[10.4,3],[10.55,5],[10.65,4.5],[10.8,3]],
[[8.8,3.5],[9.2,3.5],[9.5,3.5],[9.8,3.5],[10.1,3],[10.4,3.5],[10.55,6],[10.6,5.5],[10.7,4],[10.8,3.5]],
[[8.8,3],[9.2,3],[9.5,3],[9.8,3],[10.1,2.8],[10.4,3],[10.55,5.5],[10.65,5],[10.8,3.5]],
// row 13
[[8.8,2.5],[9.2,2.5],[9.5,2.3],[9.8,2.5],[10.1,2.3],[10.4,2.2],[10.8,2]],
[[8.8,2.5],[9.2,2.5],[9.5,2.3],[9.8,2.3],[10.1,2.3],[10.4,2.2],[10.8,2.2]],
[[8.8,2.5],[9.2,2.5],[9.5,2.3],[9.8,2.5],[10.1,2.3],[10.4,2.5],[10.55,3.5],[10.6,2.5],[10.8,2.3]],
[[8.8,3],[9.2,3],[9.5,3],[9.8,3.2],[10.1,2.8],[10.4,3],[10.5,4.5],[10.6,6],[10.7,4],[10.8,3]],
[[8.8,2.5],[9.2,2.3],[9.5,2.3],[9.8,2.3],[10.1,2.2],[10.4,2.2],[10.8,2]]
];

const xTickValues = [9.0, 9.5, 10.0, 10.5];
const yTickValues = [0, 20000, 40000, 60000, 80000, 100000, 120000, 140000];
const emptyYTickValues = [0.0, 0.2, 0.4, 0.6, 0.8, 1.0];
const xDomain = [8.8, 10.8];
const yDomain = [0, 143100];

// ---------------- LAYOUT (reference pixel units) ----------------
const REF_W = 4320, REF_H = 5040;
const nCols = 12, nRows = 14;
const ax0x = 65.3, ax0y = 25, colStep = 359.1, rowStep = 359.2, axW = 294, axH = 307.3;
const FONT = "DejaVu Sans";

const svg = d3.select("body").append("svg")
  .attr("width", 3511).attr("height", 4096)
  .attr("viewBox", `0 0 ${REF_W} ${REF_H}`)
  .style("display", "block");
svg.append("rect").attr("width", REF_W).attr("height", REF_H).attr("fill", "#fff");

const x = d3.scaleLinear().domain(xDomain).range([0, axW]);

function styleAxis(g) {
  g.attr("font-family", FONT).attr("font-size", 10);
  g.select(".domain").remove();
  g.selectAll(".tick line").attr("stroke", "#000").attr("stroke-width", 1);
  g.selectAll(".tick text").attr("fill", "#000");
}

function drawFrame(g, y, yTicks, yFmt) {
  g.append("g").call(d3.axisLeft(y).tickValues(yTicks).tickSize(-4).tickPadding(4).tickFormat(yFmt)).call(styleAxis);
  g.append("g").attr("transform", `translate(${axW},0)`).call(d3.axisRight(y).tickValues(yTicks).tickSize(-4).tickFormat("")).call(styleAxis);
  g.append("g").attr("transform", `translate(0,${axH})`).call(d3.axisBottom(x).tickValues(xTickValues).tickSize(-4).tickPadding(5).tickFormat(d3.format(".1f"))).call(styleAxis);
  g.append("g").call(d3.axisTop(x).tickValues(xTickValues).tickSize(-4).tickFormat("")).call(styleAxis);
  g.append("rect").attr("x", 0).attr("y", 0).attr("width", axW).attr("height", axH)
    .attr("fill", "none").attr("stroke", "#000").attr("stroke-width", 1.2);
}

const nPanels = titles.length;
for (let i = 0; i < nRows * nCols; i++) {
  const r = Math.floor(i / nCols), c = i % nCols;
  const g = svg.append("g").attr("transform", `translate(${ax0x + c * colStep},${ax0y + r * rowStep})`);
  if (i >= nPanels) {
    const yE = d3.scaleLinear().domain([0, 1]).range([axH, 0]);
    drawFrame(g, yE, emptyYTickValues, d3.format(".1f"));
    continue;
  }
  const y = d3.scaleLinear().domain(yDomain).range([axH, 0]);
  const clipId = "clip" + i;
  g.append("clipPath").attr("id", clipId).append("rect").attr("width", axW).attr("height", axH);
  const plot = g.append("g").attr("clip-path", `url(#${clipId})`);

  // filled integration window
  const L = boundLeft[i], R = boundRight[i], top = boxTopK[i] * 1000;
  plot.append("rect")
    .attr("x", x(L)).attr("width", x(R) - x(L))
    .attr("y", y(top)).attr("height", y(0) - y(top))
    .attr("fill", "#00bfbf").attr("stroke", "#000").attr("stroke-width", 1.2);

  // chromatogram trace
  const pts = tracesK[i].map(d => [d[0], d[1] * 1000]);
  const line = d3.line().x(d => x(d[0])).y(d => y(d[1]));
  plot.append("path").attr("d", line(pts))
    .attr("fill", "none").attr("stroke", "#000").attr("stroke-width", 2)
    .attr("stroke-linejoin", "round").attr("stroke-linecap", "round");

  // window bounds
  [L, R].forEach(t => {
    plot.append("line").attr("x1", x(t)).attr("x2", x(t)).attr("y1", 0).attr("y2", axH)
      .attr("stroke", "#000").attr("stroke-width", 2.3);
  });
  // green marker
  plot.append("line").attr("x1", x(greenRT[i])).attr("x2", x(greenRT[i])).attr("y1", 0).attr("y2", axH)
    .attr("stroke", "#008000").attr("stroke-opacity", 0.5).attr("stroke-width", 2);
  // red marker
  if (redRT[i] !== null) {
    plot.append("line").attr("x1", x(redRT[i])).attr("x2", x(redRT[i])).attr("y1", 0).attr("y2", axH)
      .attr("stroke", "#ff0000").attr("stroke-width", 2);
  }

  drawFrame(g, y, yTickValues, d3.format("d"));

  g.append("text").attr("x", axW / 2).attr("y", -5.5).attr("text-anchor", "middle")
    .attr("font-family", FONT).attr("font-size", 12).attr("fill", "#000").text(titles[i]);
  g.append("text").attr("x", axW / 2).attr("y", axH + 25).attr("text-anchor", "middle")
    .attr("font-family", FONT).attr("font-size", 10).attr("fill", "#000").text("Time (min)");
  g.append("text").attr("transform", `translate(-49.5,${axH / 2}) rotate(-90)`).attr("text-anchor", "middle")
    .attr("font-family", FONT).attr("font-size", 10).attr("fill", "#000").text("Intensity (au)");
}
</script>
</body></html>
